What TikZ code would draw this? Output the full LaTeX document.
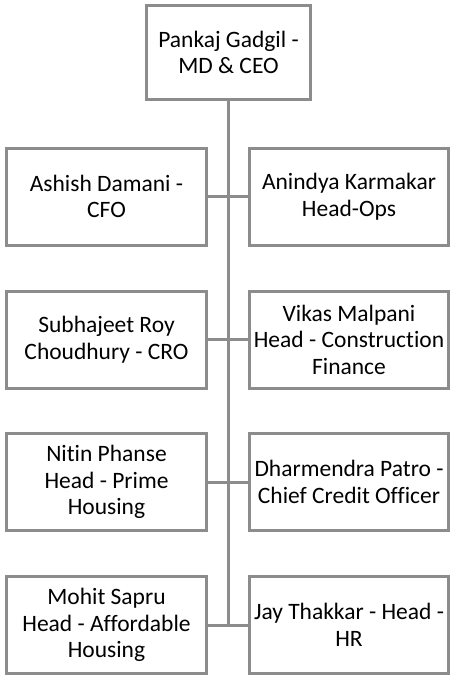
\documentclass[tikz,border=0pt]{standalone}
\usepackage{fontspec}
\setmainfont{Carlito}[Ligatures=NoCommon]
\definecolor{boxgray}{HTML}{8C8C8C}
\begin{document}
\begin{tikzpicture}[x=1pt,y=-1pt,
  orgbox/.style={draw=boxgray, line width=3pt, fill=white, rectangle,
    align=center, font=\fontsize{23.5}{26.5}\selectfont, inner sep=0pt, outer sep=0pt},
  lbox/.style={orgbox, minimum width=200pt, minimum height=97pt},
  rbox/.style={orgbox, minimum width=199pt, minimum height=97pt},
  link/.style={draw=boxgray, line width=3pt}]
\useasboundingbox (0,0) rectangle (451,677);
\node[orgbox, minimum width=164pt, minimum height=94pt] (top) at (228.5,52.5) {Pankaj Gadgil -\\MD \& CEO};
\node[lbox] (l1) at (106.5,196.5) {Ashish Damani -\\CFO};
\node[rbox] (r1) at (349,196.5) {Anindya Karmakar\\Head-Ops};
\node[lbox] (l2) at (106.5,339.5) {Subhajeet Roy\\Choudhury - CRO};
\node[rbox] (r2) at (349,339.5) {Vikas Malpani\\Head - Construction\\Finance};
\node[lbox] (l3) at (106.5,482) {Nitin Phanse\\Head - Prime\\Housing};
\node[rbox] (r3) at (349,482) {Dharmendra Patro -\\Chief Credit Officer};
\node[lbox] (l4) at (106.5,625) {Mohit Sapru\\Head - Affordable\\Housing};
\node[rbox] (r4) at (349,625) {Jay Thakkar - Head -\\HR};
\coordinate (bend) at (top.south |- r4.west);
\draw[link] (top.south) -- (bend);
\draw[link] (l1.east) -- (r1.west);
\draw[link] (l2.east) -- (r2.west);
\draw[link] (l3.east) -- (r3.west);
\draw[link] (l4.east) -- (r4.west);
\end{tikzpicture}
\end{document}
